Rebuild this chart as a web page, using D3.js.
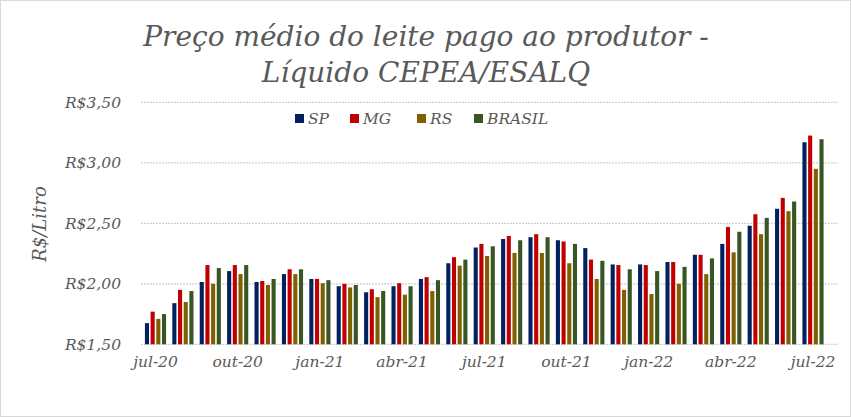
<!DOCTYPE html>
<html><head><meta charset="utf-8">
<script src="https://cdn.jsdelivr.net/npm/d3@7/dist/d3.min.js"></script>
<style>body{margin:0;background:#fff}svg{display:block}</style>
</head><body><svg id="c" width="851" height="417"></svg>
<script>
var months = ["jul-20","ago-20","set-20","out-20","nov-20","dez-20","jan-21","fev-21","mar-21","abr-21","mai-21","jun-21",
  "jul-21","ago-21","set-21","out-21","nov-21","dez-21","jan-22","fev-22","mar-22","abr-22","mai-22","jun-22","jul-22"];
var seriesNames = ["SP","MG","RS","BRASIL"];
var colors = ["#002060","#C00000","#7F6000","#375623"];
var sp = [1.675,1.84,2.015,2.105,2.015,2.08,2.04,1.98,1.93,1.98,2.04,2.17,2.30,2.37,2.385,2.36,2.295,2.16,2.16,2.18,2.24,2.33,2.48,2.62,3.17];
var mg = [1.77,1.95,2.155,2.155,2.023,2.12,2.04,2.00,1.955,2.005,2.055,2.22,2.33,2.395,2.41,2.35,2.20,2.155,2.155,2.18,2.24,2.47,2.575,2.71,3.225];
var rs = [1.71,1.85,2.00,2.08,1.99,2.08,2.005,1.97,1.89,1.91,1.94,2.15,2.23,2.255,2.255,2.17,2.04,1.95,1.915,2.00,2.08,2.26,2.41,2.60,2.95];
var br = [1.75,1.94,2.13,2.155,2.04,2.12,2.03,1.99,1.94,1.98,2.03,2.20,2.31,2.36,2.385,2.33,2.19,2.12,2.105,2.14,2.21,2.43,2.545,2.68,3.195];
var yTicks = [1.5,2.0,2.5,3.0,3.5];
var xLabels = ["jul-20","out-20","jan-21","abr-21","jul-21","out-21","jan-22","abr-22","jul-22"];
var values = [sp,mg,rs,br];

var svg = d3.select("#c");
var font = "'DejaVu Serif','Liberation Serif',serif";
svg.append("rect").attr("x",0.5).attr("y",0.5).attr("width",850).attr("height",416)
  .attr("fill","#fff").attr("stroke","#d9d9d9");

var x = d3.scaleBand().domain(months).range([141.8,826.7]);
var xi = d3.scaleBand().domain(seriesNames).range([0,x.bandwidth()]).paddingInner(0.28).paddingOuter(0.55);
var y = d3.scaleLinear().domain([1.5,3.5]).range([344.3,102.3]);
var fmt = function(v){ return "R$" + v.toFixed(2).replace(".", ","); };

svg.append("g").selectAll("line").data(yTicks).join("line")
  .attr("x1",141).attr("x2",838).attr("y1",d=>y(d)).attr("y2",d=>y(d))
  .attr("stroke","#d0d0d0").attr("stroke-width",1.2).attr("stroke-dasharray","2,1");

var yAxis = svg.append("g").attr("transform","translate(121,0)")
  .call(d3.axisLeft(y).tickValues(yTicks).tickFormat(fmt).tickSize(0).tickPadding(0));
yAxis.select(".domain").remove();
yAxis.selectAll("text").attr("font-family",font).attr("font-style","italic").attr("font-size",15.5).attr("fill","#595959");

var xAxis = svg.append("g").attr("transform","translate(0,344.3)")
  .call(d3.axisBottom(x).tickValues(xLabels).tickSize(0).tickPadding(12));
xAxis.select(".domain").remove();
xAxis.selectAll("text").attr("font-family",font).attr("font-style","italic").attr("font-size",15.5).attr("fill","#595959");

svg.append("text").attr("x",426).attr("y",46).attr("text-anchor","middle")
  .attr("font-family",font).attr("font-style","italic").attr("font-size",28).attr("fill","#595959")
  .text("Preço médio do leite pago ao produtor -");
svg.append("text").attr("x",426).attr("y",82).attr("text-anchor","middle")
  .attr("font-family",font).attr("font-style","italic").attr("font-size",28).attr("fill","#595959")
  .text("Líquido CEPEA/ESALQ");

seriesNames.forEach(function(s,i){
  svg.append("g").selectAll("rect").data(values[i]).join("rect")
    .attr("x",(d,j)=>x(months[j])+xi(s)).attr("width",xi.bandwidth())
    .attr("y",d=>y(d)).attr("height",d=>y(1.5)-y(d)).attr("fill",colors[i]);
});

svg.append("text").attr("transform","translate(46,224) rotate(-90)").attr("text-anchor","middle")
  .attr("font-family",font).attr("font-style","italic").attr("font-size",18).attr("fill","#595959")
  .text("R$/Litro");

var legX = [295,350,417,474];
var leg = svg.append("g");
seriesNames.forEach(function(s,i){
  leg.append("rect").attr("x",legX[i]).attr("y",114).attr("width",9).attr("height",9).attr("fill",colors[i]);
  leg.append("text").attr("x",legX[i]+13).attr("y",124).attr("font-family",font).attr("font-style","italic")
    .attr("font-size",15.5).attr("fill","#595959").text(s);
});
</script></body></html>
